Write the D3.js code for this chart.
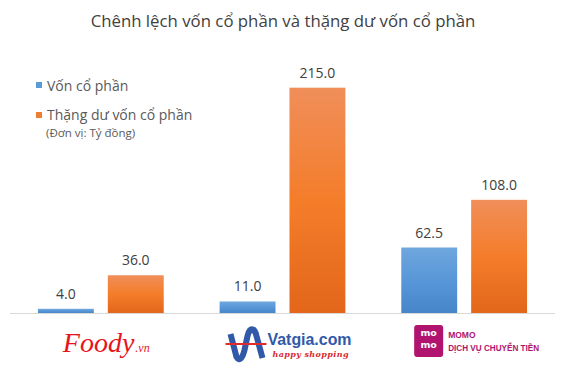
<!DOCTYPE html>
<html lang="vi">
<head>
<meta charset="UTF-8">
<title>von-co-phan</title>
<script src="https://cdn.jsdelivr.net/npm/d3@7/dist/d3.min.js"></script>
<style>
  body { margin: 0; background: #fff; }
  svg { display: block; font-family: "Open Sans", "Noto Sans", sans-serif; }
</style>
</head>
<body>
<script>
// data
const companies = ['Foody', 'Vatgia', 'MoMo'];
const seriesNames = ['Vốn cổ phần', 'Thặng dư vốn cổ phần'];
const vonCoPhan = [4.0, 11.0, 62.5];
const thangDu = [36.0, 215.0, 108.0];

const width = 565, height = 377;
const margin = { top: 51, left: 10, right: 10, bottom: 64 };
const baseY = height - margin.bottom;

const svg = d3.select('body').append('svg')
  .attr('width', width)
  .attr('height', height);

const defs = svg.append('defs');
function grad(id, stops) {
  const g = defs.append('linearGradient').attr('id', id)
    .attr('x1', 0).attr('y1', 0).attr('x2', 0).attr('y2', 1);
  stops.forEach(s => g.append('stop').attr('offset', s[0]).attr('stop-color', s[1]));
}
grad('g-blue', [[0, '#6fa7de'], [0.5, '#5897d8'], [1, '#4686c8']]);
grad('g-orange', [[0, '#f08e5a'], [0.5, '#f47d2a'], [1, '#e3661a']]);

const x0 = d3.scaleBand()
  .domain(companies)
  .range([margin.left, width - margin.right]);
const x1 = d3.scaleBand()
  .domain(seriesNames)
  .range([0, x0.bandwidth()])
  .paddingInner(0.2)
  .paddingOuter(0.4);
const y = d3.scaleLinear()
  .domain([0, 250])
  .range([baseY, margin.top]);

const fills = ['url(#g-blue)', 'url(#g-orange)'];
const rows = companies.map((c, i) => ({
  company: c,
  values: [vonCoPhan[i], thangDu[i]]
}));

// title
svg.append('text')
  .attr('x', 283).attr('y', 27)
  .attr('text-anchor', 'middle')
  .attr('font-size', 16.8)
  .attr('fill', '#404040')
  .text('Chênh lệch vốn cổ phần và thặng dư vốn cổ phần');

// bars
const groups = svg.selectAll('g.cat')
  .data(rows)
  .enter().append('g')
  .attr('class', 'cat')
  .attr('transform', d => 'translate(' + x0(d.company) + ',0)');

groups.selectAll('rect')
  .data(d => d.values.map((v, j) => ({ key: seriesNames[j], v: v, j: j })))
  .enter().append('rect')
  .attr('x', d => x1(d.key))
  .attr('y', d => y(d.v))
  .attr('width', x1.bandwidth())
  .attr('height', d => baseY - y(d.v))
  .attr('fill', d => fills[d.j]);

groups.selectAll('text.val')
  .data(d => d.values.map((v, j) => ({ key: seriesNames[j], v: v })))
  .enter().append('text')
  .attr('class', 'val')
  .attr('x', d => x1(d.key) + x1.bandwidth() / 2)
  .attr('y', d => y(d.v) - 10)
  .attr('text-anchor', 'middle')
  .attr('font-size', 14)
  .attr('fill', '#404040')
  .text(d => d3.format('.1f')(d.v));

// axis line
svg.append('line')
  .attr('x1', margin.left).attr('x2', width - margin.right)
  .attr('y1', baseY + 0.5).attr('y2', baseY + 0.5)
  .attr('stroke', '#d9d9d9')
  .attr('stroke-width', 1);

// legend
const legend = svg.append('g');
seriesNames.forEach((s, i) => {
  legend.append('rect')
    .attr('x', 36).attr('y', 82 + i * 30)
    .attr('width', 6).attr('height', 6)
    .attr('fill', i === 0 ? '#5b9bd5' : '#ed7d31');
  legend.append('text')
    .attr('x', 47).attr('y', 90.5 + i * 29)
    .attr('font-size', 14)
    .attr('fill', '#595959')
    .text(s);
});
legend.append('text')
  .attr('x', 46).attr('y', 136.5)
  .attr('font-size', 11.5)
  .attr('fill', '#595959')
  .text('(Đơn vị: Tỷ đồng)');

// logos under each category
const cx = c => x0(c) + x0.bandwidth() / 2;

const foody = svg.append('g').attr('transform', 'translate(' + cx('Foody') + ',0)');
const foodyText = foody.append('text')
  .attr('x', -38).attr('y', 352)
  .attr('font-family', '"Liberation Serif", serif')
  .attr('font-style', 'italic')
  .attr('font-size', 28)
  .attr('fill', '#e8141d')
  .text('Foody');
foodyText.append('tspan')
  .attr('font-size', 12)
  .attr('dx', 1)
  .text('.vn');

const vg = svg.append('g').attr('transform', 'translate(' + cx('Vatgia') + ',0)');
vg.append('path')
  .attr('d', 'M-52,334 L-46,357 C-43,362 -40,358 -38,350 L-35,336 C-33,327 -28,327 -26,336 L-20,358')
  .attr('fill', 'none')
  .attr('stroke', '#3159a8')
  .attr('stroke-width', 6)
  .attr('stroke-linecap', 'butt');
vg.append('line')
  .attr('x1', -57).attr('x2', -16)
  .attr('y1', 344).attr('y2', 344)
  .attr('stroke', '#e02b2b')
  .attr('stroke-width', 2);
vg.append('text')
  .attr('x', -15).attr('y', 345)
  .attr('font-family', '"Liberation Sans", Arial, sans-serif')
  .attr('font-weight', 'bold')
  .attr('font-size', 16)
  .attr('textLength', 84)
  .attr('lengthAdjust', 'spacingAndGlyphs')
  .attr('fill', '#3159a8')
  .text('Vatgia.com');
vg.append('text')
  .attr('x', -10).attr('y', 357)
  .attr('font-family', '"DejaVu Serif", serif')
  .attr('font-style', 'italic')
  .attr('font-weight', 'bold')
  .attr('font-size', 8)
  .attr('textLength', 76)
  .attr('lengthAdjust', 'spacing')
  .attr('fill', '#d9272e')
  .text('happy shopping');

const mm = svg.append('g').attr('transform', 'translate(' + cx('MoMo') + ',0)');
mm.append('rect')
  .attr('x', -50).attr('y', 325)
  .attr('width', 29).attr('height', 32)
  .attr('rx', 3)
  .attr('fill', '#b0146e');
['mo', 'mo'].forEach((t, i) => {
  mm.append('text')
    .attr('x', -35.5).attr('y', 336 + i * 11.5)
    .attr('text-anchor', 'middle')
    .attr('font-family', '"DejaVu Sans", sans-serif')
    .attr('font-weight', 'bold')
    .attr('font-size', 9.5)
    .attr('fill', '#fff')
    .text(t);
});
mm.append('text')
  .attr('x', -16).attr('y', 338)
  .attr('font-family', '"Liberation Sans", Arial, sans-serif')
  .attr('font-weight', 'bold')
  .attr('font-size', 8.5)
  .attr('fill', '#b0146e')
  .text('MOMO');
mm.append('text')
  .attr('x', -16).attr('y', 350.5)
  .attr('font-family', '"Liberation Sans", Arial, sans-serif')
  .attr('font-weight', 'bold')
  .attr('font-size', 8.5)
  .attr('textLength', 91)
  .attr('lengthAdjust', 'spacingAndGlyphs')
  .attr('fill', '#b0146e')
  .text('DỊCH VỤ CHUYỂN TIỀN');
</script>
</body>
</html>
